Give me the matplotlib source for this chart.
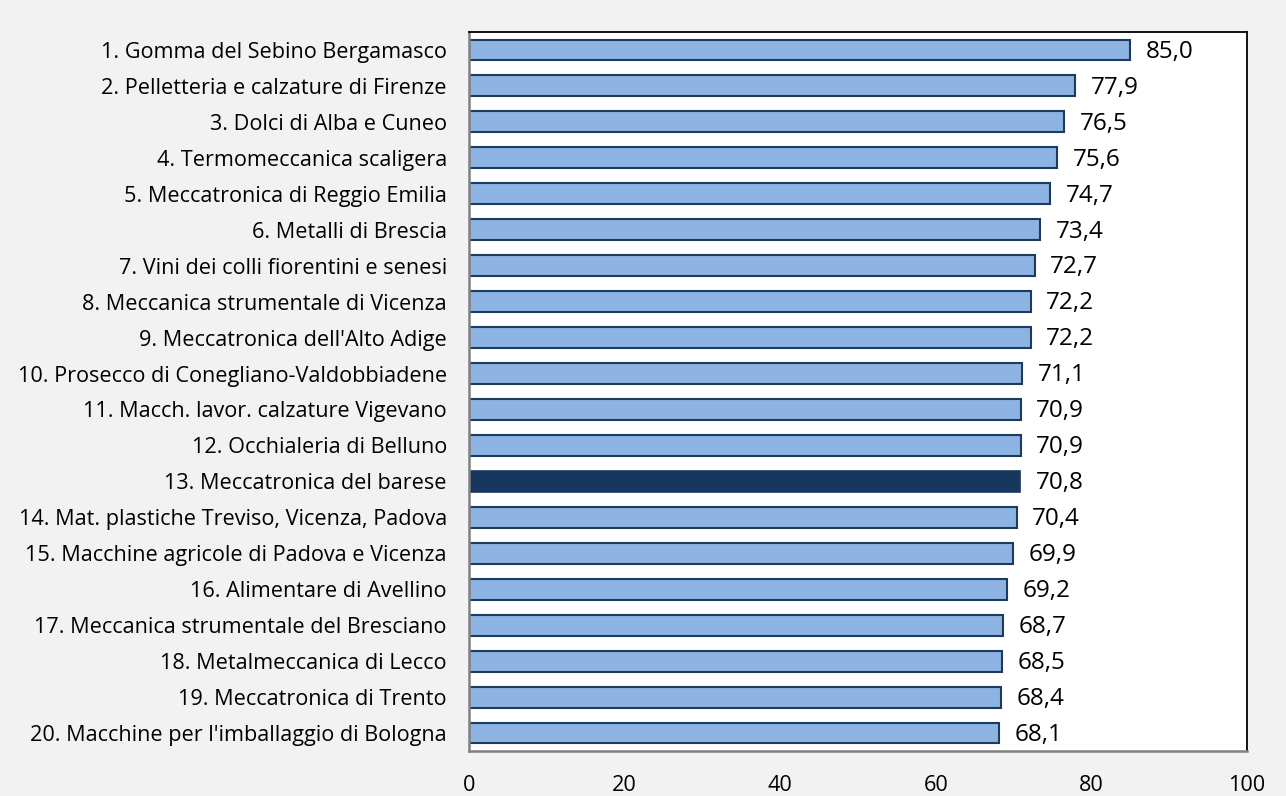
import matplotlib.pyplot as plt

categories = [
    "1. Gomma del Sebino Bergamasco",
    "2. Pelletteria e calzature di Firenze",
    "3. Dolci di Alba e Cuneo",
    "4. Termomeccanica scaligera",
    "5. Meccatronica di Reggio Emilia",
    "6. Metalli di Brescia",
    "7. Vini dei colli fiorentini e senesi",
    "8. Meccanica strumentale di Vicenza",
    "9. Meccatronica dell'Alto Adige",
    "10. Prosecco di Conegliano-Valdobbiadene",
    "11. Macch. lavor. calzature Vigevano",
    "12. Occhialeria di Belluno",
    "13. Meccatronica del barese",
    "14. Mat. plastiche Treviso, Vicenza, Padova",
    "15. Macchine agricole di Padova e Vicenza",
    "16. Alimentare di Avellino",
    "17. Meccanica strumentale del Bresciano",
    "18. Metalmeccanica di Lecco",
    "19. Meccatronica di Trento",
    "20. Macchine per l'imballaggio di Bologna",
]
values = [85.0, 77.9, 76.5, 75.6, 74.7, 73.4, 72.7, 72.2, 72.2, 71.1,
          70.9, 70.9, 70.8, 70.4, 69.9, 69.2, 68.7, 68.5, 68.4, 68.1]
highlight = "13. Meccatronica del barese"
x_ticks = [0, 20, 40, 60, 80, 100]

plt.rcParams['font.family'] = ['Open Sans', 'DejaVu Sans']

fig = plt.figure(figsize=(12.86, 7.96), dpi=100, facecolor="#f2f2f2")
ax = fig.add_axes([469 / 1286, 1 - 751 / 796, 778 / 1286, 719 / 796])
ax.set_facecolor("white")

ypos = list(range(len(categories)))
for y, cat, v in zip(ypos, categories, values):
    if cat == highlight:
        ax.barh(y, v, height=0.58, color="#17375e", edgecolor="#17375e", linewidth=1.2)
    else:
        ax.barh(y, v, height=0.58, color="#8db3e2", edgecolor="#1f3b5c", linewidth=1.5)
    ax.text(v + 2.0, y + 0.05, f"{v:.1f}".replace(".", ","), va="center", ha="left",
            fontsize=17.5, color="black")

ax.set_ylim(len(categories) - 0.5, -0.5)
ax.set_xlim(0, 100)
ax.set_yticks(ypos)
ax.set_yticklabels(categories, fontsize=15.6)
ax.set_xticks(x_ticks)
ax.set_xticklabels([str(t) for t in x_ticks], fontsize=15.6)
ax.tick_params(axis="both", length=0)
ax.tick_params(axis="y", pad=16)
ax.tick_params(axis="x", pad=17)

for side in ["top", "right"]:
    ax.spines[side].set_color("black")
    ax.spines[side].set_linewidth(1.3)
for side in ["left", "bottom"]:
    ax.spines[side].set_color("#808080")
    ax.spines[side].set_linewidth(1.8)

fig.savefig("out.png", dpi=100, facecolor=fig.get_facecolor())
